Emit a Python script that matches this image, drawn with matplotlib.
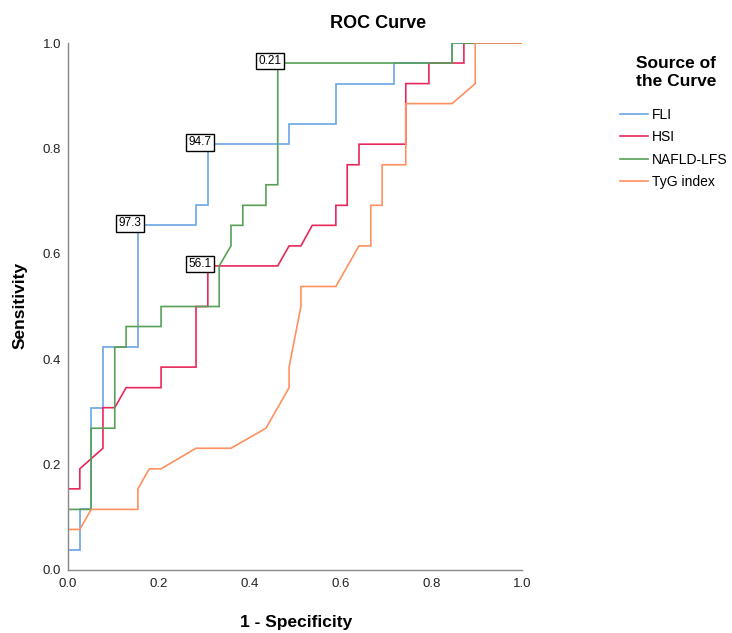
import matplotlib
matplotlib.use("Agg")
import matplotlib.pyplot as plt

# ---------------- data ----------------
fli_fpr = [0, 0, 0.026, 0.026, 0.051, 0.051, 0.077, 0.077, 0.154, 0.154, 0.282, 0.282, 0.308, 0.308,
           0.487, 0.487, 0.590, 0.590, 0.718, 0.718, 0.846, 0.846, 1.0]
fli_tpr = [0, 0.038, 0.038, 0.115, 0.115, 0.308, 0.308, 0.423, 0.423, 0.654, 0.654, 0.692, 0.692, 0.808,
           0.808, 0.846, 0.846, 0.923, 0.923, 0.962, 0.962, 1.0, 1.0]

hsi_fpr = [0, 0, 0.026, 0.026, 0.077, 0.077, 0.103, 0.128, 0.205, 0.205, 0.282, 0.282, 0.308, 0.308,
           0.462, 0.487, 0.513, 0.538, 0.590, 0.590, 0.615, 0.615, 0.641, 0.641, 0.744, 0.744,
           0.795, 0.795, 0.872, 0.872, 1.0]
hsi_tpr = [0, 0.154, 0.154, 0.192, 0.231, 0.308, 0.308, 0.346, 0.346, 0.385, 0.385, 0.500, 0.500, 0.577,
           0.577, 0.615, 0.615, 0.654, 0.654, 0.692, 0.692, 0.769, 0.769, 0.808, 0.808, 0.923,
           0.923, 0.962, 0.962, 1.0, 1.0]

nafld_fpr = [0, 0, 0.051, 0.051, 0.103, 0.103, 0.128, 0.128, 0.205, 0.205, 0.333, 0.333, 0.359, 0.359,
             0.385, 0.385, 0.436, 0.436, 0.462, 0.462, 0.846, 0.846, 1.0]
nafld_tpr = [0, 0.115, 0.115, 0.269, 0.269, 0.423, 0.423, 0.462, 0.462, 0.500, 0.500, 0.577, 0.615, 0.654,
             0.654, 0.692, 0.692, 0.731, 0.731, 0.962, 0.962, 1.0, 1.0]

tyg_fpr = [0, 0, 0.026, 0.051, 0.154, 0.154, 0.179, 0.205, 0.282, 0.359, 0.436, 0.487, 0.487, 0.513,
           0.513, 0.590, 0.641, 0.667, 0.667, 0.692, 0.692, 0.744, 0.744, 0.846, 0.897, 0.897, 1.0]
tyg_tpr = [0, 0.077, 0.077, 0.115, 0.115, 0.154, 0.192, 0.192, 0.231, 0.231, 0.269, 0.346, 0.385, 0.500,
           0.538, 0.538, 0.615, 0.615, 0.692, 0.692, 0.769, 0.769, 0.885, 0.885, 0.923, 1.0, 1.0]

series_names = ["FLI", "HSI", "NAFLD-LFS", "TyG index"]
series_colors = ["#6aa6e6", "#e8285a", "#58a058", "#ff9060"]

cut_labels = ["97.3", "94.7", "0.21", "56.1"]
cut_x = [0.154, 0.308, 0.462, 0.308]
cut_y = [0.654, 0.808, 0.962, 0.577]

ticks = [0.0, 0.2, 0.4, 0.6, 0.8, 1.0]
tick_labels = ["0.0", "0.2", "0.4", "0.6", "0.8", "1.0"]

# ---------------- style ----------------
plt.rcParams["font.family"] = ["Liberation Sans", "DejaVu Sans"]

fig = plt.figure(figsize=(7.32, 6.33), dpi=100)
ax = fig.add_axes([68 / 732, 63 / 633, 454 / 732, 527 / 633])

xs = [fli_fpr, hsi_fpr, nafld_fpr, tyg_fpr]
ys = [fli_tpr, hsi_tpr, nafld_tpr, tyg_tpr]
for x, y, name, col in zip(xs, ys, series_names, series_colors):
    ax.plot(x, y, color=col, lw=1.2, label=name, solid_joinstyle="miter")

for lab, px, py in zip(cut_labels, cut_x, cut_y):
    ax.annotate(lab, xy=(px, py), xytext=(-8, 2), textcoords="offset pixels",
                ha="center", va="center", fontsize=8.5, zorder=10,
                bbox=dict(boxstyle="square,pad=0.2", fc="white", ec="black", lw=1.0))

ax.set_xlim(0, 1)
ax.set_ylim(0, 1)
ax.set_xticks(ticks)
ax.set_xticklabels(tick_labels)
ax.set_yticks(ticks)
ax.set_yticklabels(tick_labels)
ax.tick_params(length=0, labelsize=9.5, colors="#222222")
ax.tick_params(axis="x", pad=6)
ax.tick_params(axis="y", pad=5)
for s in ["top", "right"]:
    ax.spines[s].set_visible(False)
for s in ["left", "bottom"]:
    ax.spines[s].set_color("#888888")
    ax.spines[s].set_linewidth(1.0)

fig.text(378 / 732, 1 - 24 / 633, "ROC Curve", ha="center", va="center",
         fontsize=13, fontweight="bold")
fig.text(296 / 732, 1 - 622 / 633, "1 - Specificity", ha="center", va="center",
         fontsize=12.5, fontweight="bold")
fig.text(20 / 732, 1 - 305 / 633, "Sensitivity", ha="center", va="center",
         rotation=90, fontsize=12.5, fontweight="bold")

# legend title
fig.text(676 / 732, 1 - 72 / 633, "Source of\nthe Curve", ha="center", va="center",
         fontsize=12.5, fontweight="bold", linespacing=1.25)

leg = fig.legend(loc="upper left", bbox_to_anchor=(620 / 732, 1 - 108 / 633),
                 frameon=False, fontsize=10, handlelength=2.0, handletextpad=0.3,
                 labelspacing=0.6, borderpad=0.0, borderaxespad=0.0)

fig.savefig("out.png", dpi=100)
